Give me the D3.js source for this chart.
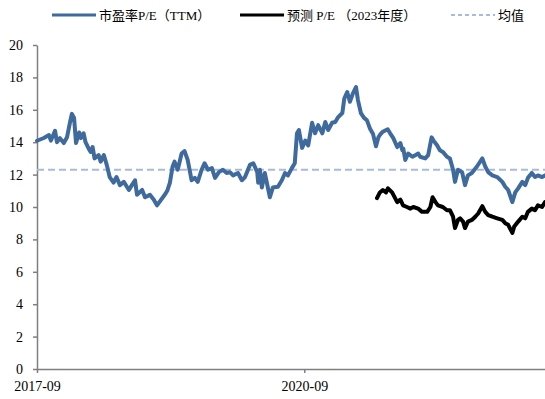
<!DOCTYPE html>
<html>
<head>
<meta charset="utf-8">
<script src="https://cdn.jsdelivr.net/npm/d3@7"></script>
<style>
  html, body { margin: 0; padding: 0; background: #fff; }
  svg { display: block; }
  .axis path, .axis line { stroke: #7f7f7f; stroke-width: 1.5; }
</style>
</head>
<body>
<svg id="chart" width="545" height="399"></svg>
<script>
// P/E (TTM)
const ttmDates = [
  "2017-09-01","2017-09-29","2017-10-20","2017-10-28","2017-11-14","2017-11-22","2017-12-04","2017-12-20",
  "2018-01-02","2018-01-14","2018-01-22","2018-01-31","2018-02-08","2018-02-21","2018-02-28","2018-03-11",
  "2018-03-19","2018-04-01","2018-04-09","2018-04-17","2018-04-25","2018-05-12","2018-05-20","2018-06-02",
  "2018-06-14","2018-06-26","2018-07-12","2018-07-24","2018-08-07","2018-08-23","2018-09-13","2018-09-25",
  "2018-10-08","2018-10-16","2018-11-06","2018-11-18","2018-12-08","2018-12-24","2019-01-06","2019-01-18",
  "2019-02-09","2019-02-17","2019-02-28","2019-03-11","2019-03-19","2019-04-01","2019-04-17","2019-04-29",
  "2019-05-12","2019-05-28","2019-06-10","2019-06-22","2019-07-08","2019-07-20","2019-08-03","2019-08-19",
  "2019-09-01","2019-09-17","2019-10-03","2019-10-19","2019-11-01","2019-11-14","2019-12-04","2019-12-20",
  "2020-01-02","2020-01-22","2020-02-05","2020-02-21","2020-02-25","2020-03-03","2020-03-11","2020-03-23",
  "2020-04-13","2020-04-25","2020-05-16","2020-06-01","2020-06-14","2020-06-26","2020-07-12","2020-07-24",
  "2020-08-02","2020-08-10","2020-08-23","2020-09-05","2020-09-17","2020-10-03","2020-10-15","2020-10-28",
  "2020-11-14","2020-11-26","2020-12-08","2020-12-24","2021-01-06","2021-01-18","2021-02-04","2021-02-12",
  "2021-02-24","2021-03-07","2021-03-19","2021-04-01","2021-04-09","2021-04-21","2021-05-04","2021-05-16",
  "2021-05-28","2021-06-10","2021-06-22","2021-07-02","2021-07-08","2021-07-20","2021-08-09","2021-08-19",
  "2021-09-01","2021-09-17","2021-09-30","2021-10-08","2021-10-12","2021-10-20","2021-11-01","2021-11-18",
  "2021-11-30","2021-12-12","2021-12-20","2022-01-10","2022-01-22","2022-02-05","2022-02-13","2022-02-28",
  "2022-03-11","2022-03-23","2022-04-09","2022-04-21","2022-05-04","2022-05-12","2022-05-24","2022-06-10",
  "2022-06-22","2022-07-04","2022-07-20","2022-08-10","2022-09-01","2022-09-13","2022-09-25","2022-10-12",
  "2022-11-01","2022-11-22","2022-12-04","2022-12-16","2023-01-02","2023-01-14","2023-01-26","2023-02-12",
  "2023-02-24","2023-03-07","2023-03-23","2023-04-05","2023-04-17","2023-05-04","2023-05-16"
];
const ttmValues = [
  14.09,14.26,14.44,14.1,14.7,14.0,14.25,13.95,
  14.3,15.2,15.75,15.5,13.95,14.6,14.25,14.55,
  14.0,13.6,13.4,13.7,13.0,13.2,12.8,13.2,
  12.6,11.85,11.5,11.85,11.35,11.55,11.05,11.35,
  11.65,10.75,11.05,10.6,10.75,10.45,10.1,10.35,
  10.8,11.0,11.5,12.5,12.8,12.3,13.3,13.45,
  12.9,11.65,11.8,11.55,12.3,12.7,12.3,12.4,
  11.8,12.15,12.3,12.1,12.15,11.95,12.1,11.65,
  11.85,12.6,12.7,12.15,11.5,12.3,11.2,12.1,
  10.6,11.2,11.25,11.65,12.1,11.95,12.4,12.7,
  14.55,14.75,13.65,14.1,13.8,15.2,14.55,15.05,
  14.55,15.25,14.75,15.2,15.25,15.55,15.8,16.7,
  17.1,16.5,17.0,17.4,16.6,15.8,15.5,15.35,
  14.85,14.5,13.75,14.3,14.45,14.65,14.8,14.55,
  14.25,13.7,13.95,13.5,13.6,12.9,13.3,13.1,
  13.2,13.3,13.1,13.0,13.2,14.3,14.1,13.8,
  13.5,13.4,13.1,13.0,12.3,11.55,12.3,12.15,
  11.35,11.95,12.1,12.5,13.0,12.5,12.15,11.95,
  11.85,11.55,11.25,11.05,10.3,10.9,11.15,11.55,
  11.35,11.8,12.1,11.85,11.95,11.85,11.95
];
// forecast P/E (2023)
const fwdDates = [
  "2021-06-26","2021-07-08","2021-07-20","2021-08-02","2021-08-10","2021-08-27","2021-09-17","2021-09-30",
  "2021-10-11","2021-10-27","2021-11-10","2021-11-22","2021-12-12","2021-12-28","2022-01-18","2022-01-31",
  "2022-02-09","2022-02-21","2022-03-03","2022-03-23","2022-04-09","2022-04-21","2022-05-04","2022-05-12",
  "2022-05-24","2022-06-02","2022-06-14","2022-06-22","2022-07-04","2022-07-20","2022-08-03","2022-08-15",
  "2022-09-01","2022-09-13","2022-09-25","2022-10-12","2022-11-01","2022-11-22","2022-12-04","2022-12-16",
  "2023-01-02","2023-01-10","2023-01-26","2023-02-12","2023-02-24","2023-03-07","2023-03-23","2023-04-05",
  "2023-04-17","2023-05-04","2023-05-16"
];
const fwdValues = [
  10.55,10.9,11.05,10.9,11.15,10.9,10.3,10.45,
  10.1,10.0,9.9,10.0,9.9,9.7,9.7,10.0,
  10.6,10.3,10.1,10.0,9.8,9.8,9.4,8.7,
  9.2,9.3,9.1,8.7,9.1,9.2,9.4,9.6,
  10.05,9.7,9.5,9.4,9.3,9.2,9.0,8.9,
  8.4,8.8,9.1,9.4,9.3,9.7,9.9,9.8,
  10.1,10.0,10.3
];
const meanValue = 12.3;
const yTicks = [0, 2, 4, 6, 8, 10, 12, 14, 16, 18, 20];
const xTicks = ["2017-09-01", "2020-09-01"];
const legendLabels = ["市盈率P/E（TTM）", "预测 P/E （2023年度）", "均值"];

const parse = d3.timeParse("%Y-%m-%d");
const ttm = ttmDates.map((d, i) => ({ date: parse(d), value: ttmValues[i] }));
const fwd = fwdDates.map((d, i) => ({ date: parse(d), value: fwdValues[i] }));

const serif = '"Times New Roman", "Liberation Serif", "DejaVu Serif", serif';
const legendFont = '"Times New Roman", "Liberation Serif", "Noto Sans CJK SC", serif';

const svg = d3.select("#chart");
const margin = { top: 45, right: 0, bottom: 30, left: 37 };
const width = 545, height = 399;

const x = d3.scaleTime()
  .domain([parse("2017-09-01"), parse("2023-05-16")])
  .range([margin.left, width - margin.right]);

const y = d3.scaleLinear()
  .domain([0, 20])
  .range([height - margin.bottom, margin.top]);

// axes (font set after the call, axis() overwrites it)
svg.append("g")
  .attr("class", "axis y-axis")
  .attr("transform", `translate(${margin.left},0)`)
  .call(d3.axisLeft(y).tickValues(yTicks).tickSize(4).tickPadding(10).tickSizeOuter(0))
  .attr("font-family", serif)
  .attr("font-size", 14)
  .call(g => g.selectAll("text").attr("fill", "#000"));

svg.append("g")
  .attr("class", "axis x-axis")
  .attr("transform", `translate(0,${y(0)})`)
  .call(d3.axisBottom(x).tickValues(xTicks.map(parse)).tickFormat(d3.timeFormat("%Y-%m")).tickSize(4).tickPadding(8).tickSizeOuter(0))
  .attr("font-family", serif)
  .attr("font-size", 14)
  .call(g => g.selectAll("text").attr("fill", "#000"));

// mean line
svg.append("line")
  .attr("x1", x.range()[0])
  .attr("x2", x.range()[1])
  .attr("y1", y(meanValue))
  .attr("y2", y(meanValue))
  .attr("stroke", "#a9bbdb")
  .attr("stroke-width", 2)
  .attr("stroke-dasharray", "7,4");

const line = d3.line()
  .x(d => x(d.date))
  .y(d => y(d.value));

svg.append("path")
  .datum(ttm)
  .attr("fill", "none")
  .attr("stroke", "#3f6a9e")
  .attr("stroke-width", 4)
  .attr("stroke-linejoin", "round")
  .attr("stroke-linecap", "round")
  .attr("d", line);

svg.append("path")
  .datum(fwd)
  .attr("fill", "none")
  .attr("stroke", "#000")
  .attr("stroke-width", 4)
  .attr("stroke-linejoin", "round")
  .attr("stroke-linecap", "round")
  .attr("d", line);

// legend
const legendItems = [
  { label: legendLabels[0], color: "#3f6a9e", dash: null, x: 52 },
  { label: legendLabels[1], color: "#000", dash: null, x: 240 },
  { label: legendLabels[2], color: "#a9bbdb", dash: "4,3", x: 451 }
];

const legend = svg.append("g")
  .attr("font-family", legendFont)
  .attr("font-size", 13);
legendItems.forEach(item => {
  legend.append("line")
    .attr("x1", item.x)
    .attr("x2", item.x + 44)
    .attr("y1", 15)
    .attr("y2", 15)
    .attr("stroke", item.color)
    .attr("stroke-width", item.dash ? 2 : 3)
    .attr("stroke-dasharray", item.dash);
  legend.append("text")
    .attr("x", item.x + 47)
    .attr("y", 19.5)
    .attr("fill", "#000")
    .text(item.label);
});
</script>
</body>
</html>
